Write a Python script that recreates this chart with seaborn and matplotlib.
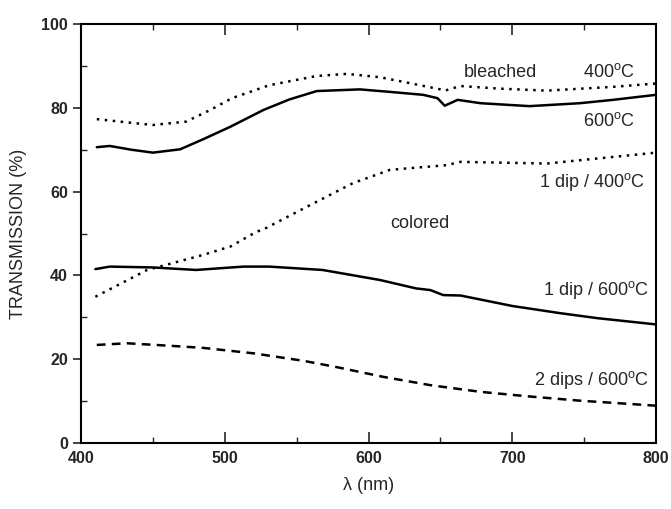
import pandas as pd
import matplotlib
matplotlib.use("Agg")
import matplotlib.pyplot as plt
from matplotlib.ticker import MultipleLocator
import seaborn as sns

# values (wavelength in nm, transmission in %)
wl_b400 = [411, 430, 450, 473, 490, 505, 531, 564, 585, 608, 630, 650, 653, 664, 690, 724, 770, 800]
tr_b400 = [77.3, 76.6, 75.9, 76.7, 79.5, 82.3, 85.4, 87.6, 88.1, 87.3, 85.8, 84.4, 84.1, 85.2, 84.6, 84.1, 85.0, 85.8]

wl_b600 = [411, 420, 435, 450, 469, 485, 504, 527, 545, 564, 594, 615, 638, 648, 653, 662, 678, 712, 747, 770, 800]
tr_b600 = [70.6, 70.9, 70.0, 69.3, 70.1, 72.5, 75.5, 79.5, 82.0, 84.0, 84.4, 83.8, 83.1, 82.3, 80.5, 81.9, 81.1, 80.4, 81.1, 81.9, 83.1]

wl_c400 = [410, 446, 485, 504, 522, 527, 555, 589, 615, 654, 664, 724, 800]
tr_c400 = [34.9, 41.3, 44.9, 46.9, 50.4, 51.0, 56.0, 62.0, 65.2, 66.3, 67.1, 66.7, 69.3]

wl_c600 = [410, 420, 450, 480, 513, 531, 568, 608, 633, 643, 652, 664, 700, 733, 759, 800]
tr_c600 = [41.5, 42.1, 41.9, 41.3, 42.1, 42.1, 41.3, 38.9, 36.9, 36.5, 35.3, 35.2, 32.7, 31.0, 29.8, 28.3]

wl_c2 = [411, 432, 462, 485, 520, 555, 578, 610, 643, 678, 712, 747, 800]
tr_c2 = [23.4, 23.8, 23.2, 22.7, 21.4, 19.6, 18.1, 15.8, 13.8, 12.2, 11.1, 10.1, 8.9]

series = [
    (wl_b400, tr_b400, (0, (1, 2.2))),
    (wl_b600, tr_b600, "-"),
    (wl_c400, tr_c400, (0, (1, 2.2))),
    (wl_c600, tr_c600, "-"),
    (wl_c2, tr_c2, (0, (3.5, 2.5))),
]

sns.set_style("ticks")
plt.rcParams["font.family"] = ["Liberation Sans", "DejaVu Sans"]

fig = plt.figure(figsize=(6.71, 5.09), dpi=100)
ax = fig.add_axes([0.1207, 0.1297, 0.857, 0.8231])

for wl, tr, ls in series:
    df = pd.DataFrame({"wl": wl, "tr": tr})
    sns.lineplot(data=df, x="wl", y="tr", color="black", linestyle=ls, linewidth=1.8, ax=ax)

ax.set_xlim(400, 800)
ax.set_ylim(0, 100)
ax.xaxis.set_major_locator(MultipleLocator(100))
ax.xaxis.set_minor_locator(MultipleLocator(50))
ax.yaxis.set_major_locator(MultipleLocator(20))
ax.yaxis.set_minor_locator(MultipleLocator(10))
ax.tick_params(axis="x", which="both", direction="in", top=True, labelsize=11.5, pad=6)
ax.tick_params(axis="x", which="major", length=8, width=1.2)
ax.tick_params(axis="x", which="minor", length=4, width=1)
ax.tick_params(axis="y", which="major", direction="out", length=6, width=1.2, labelsize=11.5)
ax.tick_params(axis="y", which="minor", direction="in", length=4, width=1)
for lab in ax.get_xticklabels() + ax.get_yticklabels():
    lab.set_fontweight("bold")
for sp in ax.spines.values():
    sp.set_linewidth(1.5)
    sp.set_color("black")

ax.set_xlabel("λ (nm)", fontsize=13, labelpad=8)
ax.set_ylabel("TRANSMISSION (%)", fontsize=13, labelpad=10)

fs = 13
ax.text(692, 88.5, "bleached", ha="center", va="center", fontsize=fs)
ax.text(785, 88.5, "400$^{\\mathregular{o}}$C", ha="right", va="center", fontsize=fs)
ax.text(785, 76.8, "600$^{\\mathregular{o}}$C", ha="right", va="center", fontsize=fs)
ax.text(792, 62.4, "1 dip / 400$^{\\mathregular{o}}$C", ha="right", va="center", fontsize=fs)
ax.text(636, 52.5, "colored", ha="center", va="center", fontsize=fs)
ax.text(795, 36.5, "1 dip / 600$^{\\mathregular{o}}$C", ha="right", va="center", fontsize=fs)
ax.text(795, 15.0, "2 dips / 600$^{\\mathregular{o}}$C", ha="right", va="center", fontsize=fs)

fig.savefig("out.png", dpi=100)
